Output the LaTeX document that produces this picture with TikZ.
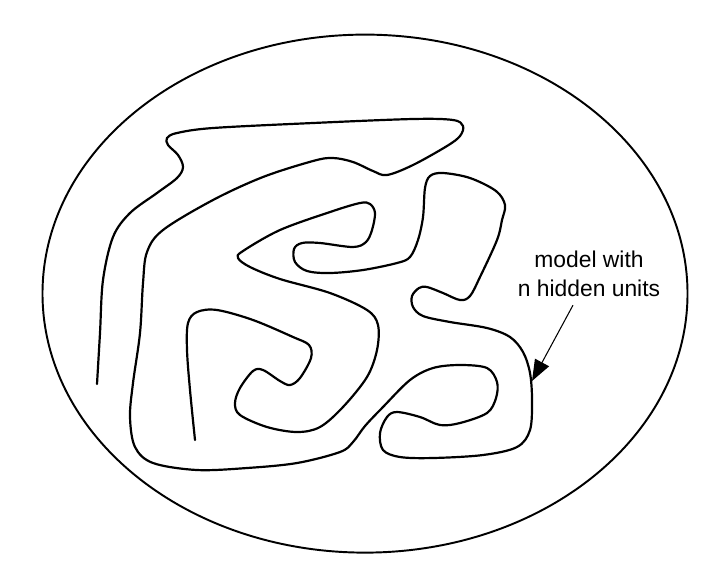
\documentclass[tikz,border=0pt]{standalone}
\usepackage{fontspec}
\setmainfont{Liberation Sans}
\usetikzlibrary{arrows.meta,calc}

\begin{document}
\begin{tikzpicture}[
  x=0.02cm,y=-0.02cm,
  rim/.style={draw, line width=1.1pt},
  wiggle/.style={draw, line width=1.25pt, line join=round, line cap=round},
  lbl/.style={align=center, inner sep=0pt, font=\fontsize{13}{16.4}\selectfont},
  arr/.style={-{Triangle[length=12pt,width=9pt]}, line width=0.6pt}
]
\useasboundingbox (0,0) rectangle (715,579);
\draw[rim] (365,293.6) ellipse [x radius=322.5, y radius=259];
% the model curve
\draw[wiggle] plot[smooth, tension=0.55] coordinates {
  (97,384) (100,333) (103,280) (113,237) (130,213) (157,193) (177,178) (183,167)
  (178,155) (168,145) (167,138) (177,133) (213,128) (313,123) (413,119) (453,120)
  (463,126) (460,136) (447,146) (413,165) (387,175) (373,171) (353,162) (333,158)
  (313,161) (263,177) (213,200) (163,230) (147,252) (143,283) (140,333) (133,383)
  (130,417) (135,447) (153,463) (197,470) (247,468) (297,463) (340,452) (353,442)
  (365,426) (383,407) (410,380) (433,368) (460,365) (487,368) (497,382) (496,398)
  (487,413) (460,423) (440,425) (420,417) (397,412) (387,417) (380,433) (383,450)
  (400,457) (433,458) (483,455) (517,447) (530,430) (532,400) (530,373) (523,352)
  (510,337) (487,328) (450,322) (423,316) (413,307) (412,296) (419,288) (427,287)
  (443,293) (460,300) (470,296) (480,277) (497,240) (502,220) (505,205) (496,191)
  (470,178) (443,173) (430,176) (425,188) (423,217) (418,240) (410,257) (397,263)
  (363,270) (330,273) (307,271) (295,262) (294,249) (302,243) (320,243) (353,247)
  (366,242) (372,230) (375,213) (370,204) (360,203) (330,212) (280,230) (243,251)
  (238,258) (250,267) (280,279) (330,293) (367,310) (378,325) (377,350) (367,377)
  (343,407) (320,427) (297,432) (267,427) (240,415) (235,403) (240,388) (253,371)
  (263,370) (280,381) (290,385) (300,378) (311,358) (309,345) (293,337) (253,320)
  (217,310) (197,312) (188,323) (187,350) (190,390) (195,440)};
\node[lbl] (label) at (589,274) {model with\\n hidden units};
\coordinate (tip) at (532,381);
\draw[arr] ($(label.south)+(-16,8)$) -- (tip);
\end{tikzpicture}
\end{document}
